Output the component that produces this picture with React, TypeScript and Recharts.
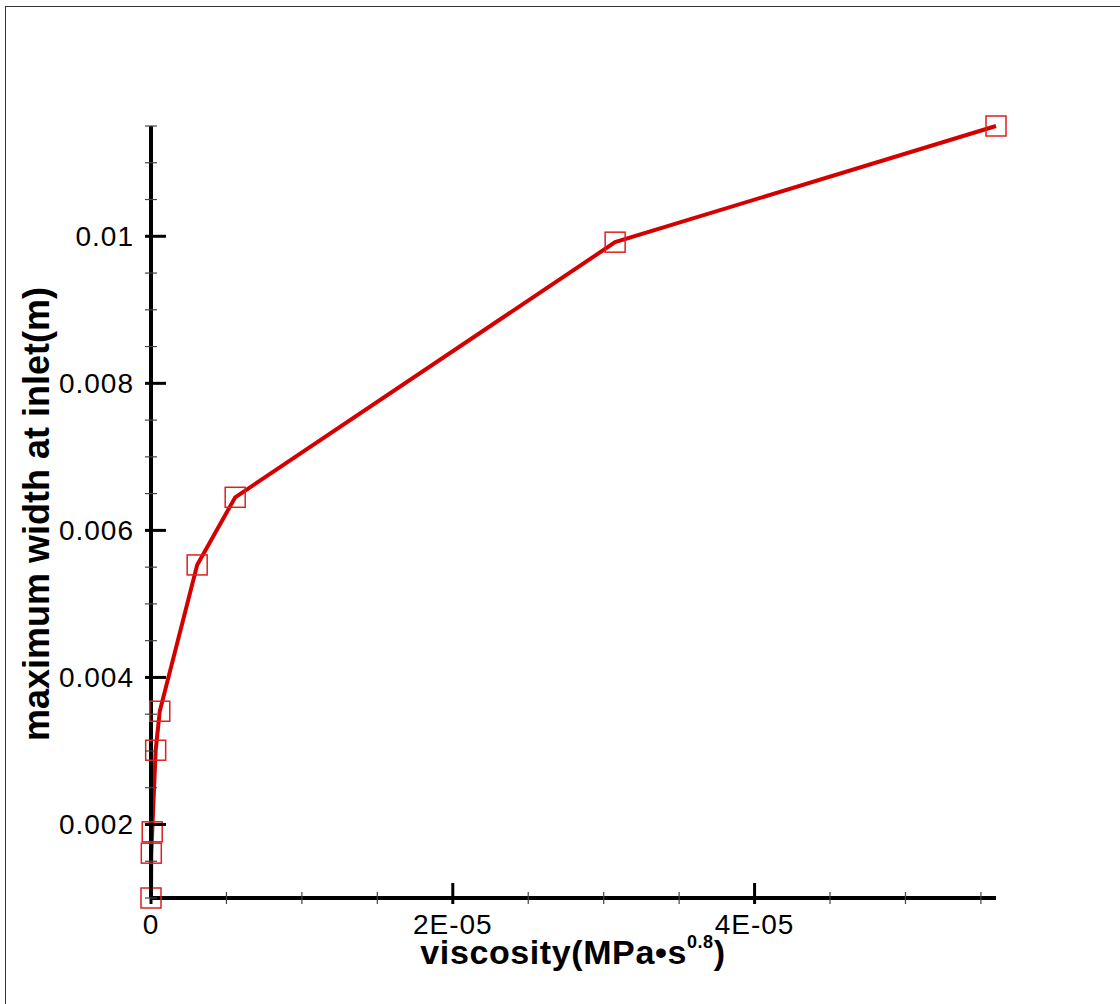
import React from "react";
import { LineChart, Line, XAxis, YAxis } from "recharts";

// viscosity (MPa·s^0.8) vs maximum width at inlet (m)
const viscosity = [
  0, 2e-8, 8e-8, 3.1e-7, 5.8e-7, 3.06e-6, 5.58e-6, 3.076e-5, 5.6e-5,
];
const maxWidth = [
  0.001, 0.00161, 0.0019, 0.00301, 0.00354, 0.00553, 0.00645, 0.00992, 0.0115,
];

const xTicks = [
  0, 5e-6, 1e-5, 1.5e-5, 2e-5, 2.5e-5, 3e-5, 3.5e-5, 4e-5, 4.5e-5, 5e-5, 5.5e-5,
];
const xMajor = [0, 2e-5, 4e-5];
const xMajorLabels = ["0", "2E-05", "4E-05"];

const yTicks = [
  0.001, 0.0015, 0.002, 0.0025, 0.003, 0.0035, 0.004, 0.0045, 0.005, 0.0055,
  0.006, 0.0065, 0.007, 0.0075, 0.008, 0.0085, 0.009, 0.0095, 0.01, 0.0105,
  0.011, 0.0115,
];
const yMajor = [0.002, 0.004, 0.006, 0.008, 0.01];
const yMajorLabels = ["0.002", "0.004", "0.006", "0.008", "0.01"];

const data = viscosity.map((v, i) => ({ v, w: maxWidth[i] }));

const FONT = "'Liberation Sans', Arial, sans-serif";
const RED = "#d40000";

const near = (a: number, b: number) => Math.abs(a - b) < 1e-12;

const XTick = (props: any) => {
  const { x, y, payload } = props;
  const idx = xMajor.findIndex((m) => near(m, payload.value));
  const major = idx >= 0;
  return (
    <g>
      <line
        x1={x}
        x2={x}
        y1={y}
        y2={y - (major ? 21 : 12)}
        stroke={major ? "#000" : "#444"}
        strokeWidth={major ? 3 : 1.2}
      />
      {major && (
        <text
          x={x}
          y={y + 30}
          textAnchor="middle"
          fontSize={28}
          letterSpacing={1}
          fontFamily={FONT}
          fill="#000"
        >
          {xMajorLabels[idx]}
        </text>
      )}
    </g>
  );
};

const YTick = (props: any) => {
  const { x, y, payload } = props;
  const idx = yMajor.findIndex((m) => near(m, payload.value));
  const major = idx >= 0;
  return (
    <g>
      <line
        x1={x}
        x2={x + (major ? 21 : 12)}
        y1={y}
        y2={y}
        stroke={major ? "#000" : "#444"}
        strokeWidth={major ? 3 : 1.2}
      />
      {major && (
        <text
          x={x - 11}
          y={y + 10}
          textAnchor="end"
          fontSize={28}
          letterSpacing={1}
          fontFamily={FONT}
          fill="#000"
        >
          {yMajorLabels[idx]}
        </text>
      )}
    </g>
  );
};

const SquareDot = (props: any) => {
  const { cx, cy } = props;
  if (cx == null || cy == null) return null;
  return (
    <rect
      x={cx - 10}
      y={cy - 10}
      width={20}
      height={20}
      fill="none"
      stroke="#dd2020"
      strokeWidth={1.5}
    />
  );
};

export default function App() {
  return (
    <div
      style={{
        position: "absolute",
        left: 0,
        top: 0,
        width: 1120,
        height: 1004,
        background: "#fff",
        overflow: "hidden",
      }}
    >
      <div
        style={{
          position: "absolute",
          left: 5,
          top: 6,
          width: 1200,
          height: 1100,
          borderLeft: "1.5px solid #333",
          borderTop: "1.5px solid #333",
        }}
      />
      <div style={{ position: "absolute", left: 0, top: 0 }}>
        <LineChart
          width={1120}
          height={1004}
          data={data}
          margin={{ top: 126, right: 124, bottom: 105, left: 150 }}
        >
          <Line
            type="linear"
            dataKey="w"
            stroke={RED}
            strokeWidth={4}
            dot={<SquareDot />}
            activeDot={false}
            isAnimationActive={false}
          />
          <XAxis
            type="number"
            dataKey="v"
            domain={[0, 5.6e-5]}
            ticks={xTicks}
            interval={0}
            height={1}
            tickLine={false}
            tickMargin={0}
            tick={<XTick />}
            axisLine={{ stroke: "#000", strokeWidth: 4 }}
          />
          <YAxis
            type="number"
            domain={[0.001, 0.0115]}
            ticks={yTicks}
            interval={0}
            width={1}
            tickLine={false}
            tickMargin={0}
            tick={<YTick />}
            axisLine={{ stroke: "#000", strokeWidth: 4 }}
          />
          <text
            x={573}
            y={964}
            textAnchor="middle"
            fontSize={34}
            letterSpacing={0.6}
            fontWeight="bold"
            fontFamily={FONT}
            fill="#000"
          >
            viscosity(MPa•s
            <tspan fontSize={18} dy={-16}>
              0.8
            </tspan>
            <tspan dy={16}>)</tspan>
          </text>
          <text
            transform="translate(49, 514) rotate(-90)"
            textAnchor="middle"
            fontSize={36}
            fontWeight="bold"
            fontFamily={FONT}
            fill="#000"
          >
            maximum width at inlet(m)
          </text>
        </LineChart>
      </div>
    </div>
  );
}
